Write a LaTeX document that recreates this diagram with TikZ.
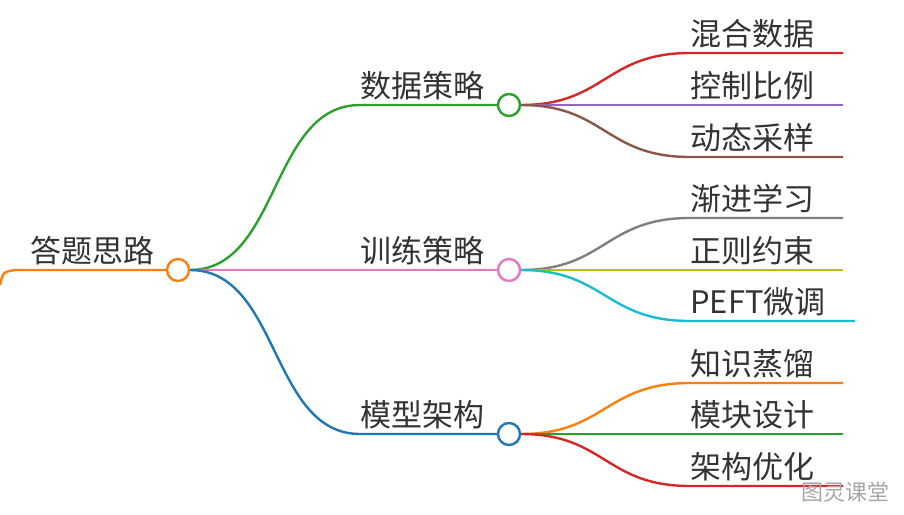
\documentclass[tikz,border=0pt]{standalone}
\usepackage{fontspec}
\newfontfamily\cjk{Noto Sans CJK SC}
\definecolor{cR}{HTML}{D62728}\definecolor{cP}{HTML}{9467BD}\definecolor{cB}{HTML}{8C564B}
\definecolor{cG}{HTML}{7F7F7F}\definecolor{cO}{HTML}{BCBD22}\definecolor{cC}{HTML}{17BECF}
\definecolor{cOr}{HTML}{FF7F0E}\definecolor{cBl}{HTML}{1F77B4}\definecolor{cPk}{HTML}{E377C2}
\definecolor{cGr}{HTML}{2CA02C}
\begin{document}
\begin{tikzpicture}[x=1pt,y=-1pt,
  lbl/.style={font=\cjk\fontsize{31}{31}\selectfont,text=black!80,anchor=base west,inner sep=0},
  ln/.style={line width=2.4pt},
  dot/.style={circle,draw,line width=2.4pt,fill=white,minimum size=22pt,inner sep=0}]
\useasboundingbox (0,0) rectangle (904,514);
% root
\draw[ln,cOr] (0,285) .. controls (3,272) .. (15,270) -- (166,270);
\node[lbl] (t0) at (30,262) {答题思路};
% main branches
\draw[ln,cGr] (190,270) .. controls (280,270) and (270,105) .. (360,105) -- (498,105);
\draw[ln,cPk] (190,270) -- (498,270);
\draw[ln,cBl] (190,270) .. controls (280,270) and (270,434) .. (360,434) -- (498,434);
\node[lbl] (t1) at (360,97) {数据策略};
\node[lbl] (t2) at (360,262) {训练策略};
\node[lbl] (t3) at (360,426) {模型架构};
\node[dot,draw=cOr] (r) at (178,270) {};
% leaves
\foreach \yy/\ty/\col/\txt/\xe in {105/53/cR/混合数据/843,105/105/cP/控制比例/843,105/157/cB/动态采样/843,
  270/218/cG/渐进学习/843,270/270/cO/正则约束/843,270/321/cC/PEFT微调/855,
  434/383/cOr/知识蒸馏/843,434/434/cGr/模块设计/843,434/486/cR/架构优化/843}{
  \draw[ln,\col] (521,\yy) .. controls (605,\yy) and (605,\ty) .. (690,\ty) -- (\xe,\ty);
  \node[lbl] at (690,\ty-8) {\txt};
}
\node[dot,draw=cGr] (a) at (509,105) {};
\node[dot,draw=cPk] (b) at (509,270) {};
\node[dot,draw=cBl] (c) at (509,434) {};
\node[font=\cjk\fontsize{22}{22}\selectfont,text=black!35] (w) at (845,492) {图灵课堂};
\end{tikzpicture}
\end{document}
